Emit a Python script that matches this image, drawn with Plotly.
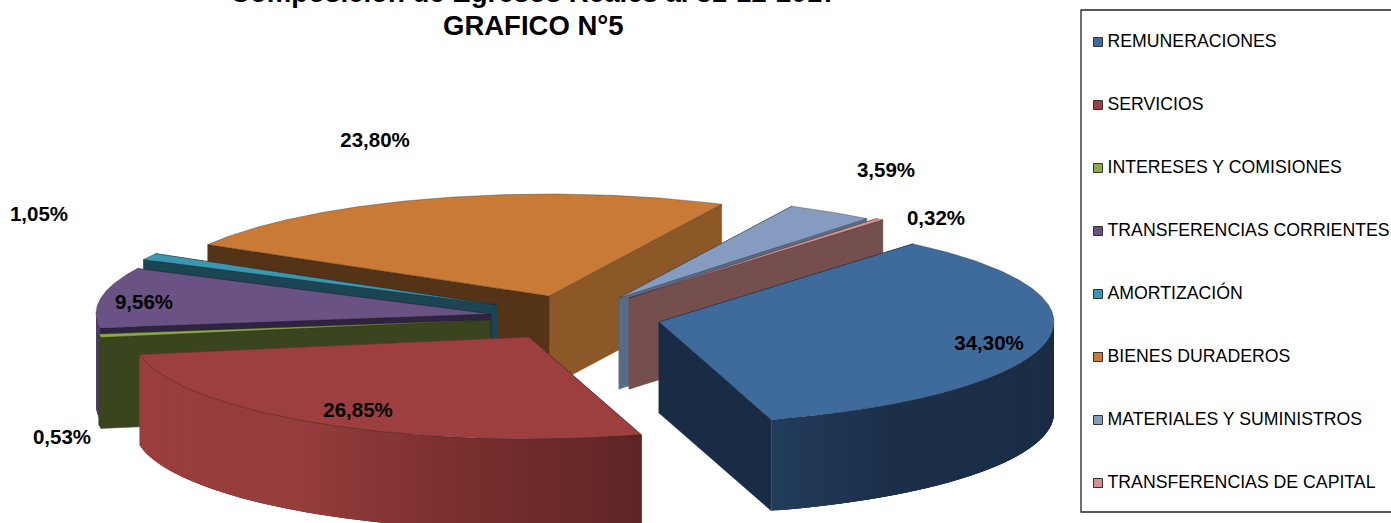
import numpy as np
import plotly.graph_objects as go

# ---- data -------------------------------------------------------------
categories = ["REMUNERACIONES", "SERVICIOS", "INTERESES Y COMISIONES",
              "TRANSFERENCIAS CORRIENTES", "AMORTIZACIÓN", "BIENES DURADEROS",
              "MATERIALES Y SUMINISTROS", "TRANSFERENCIAS DE CAPITAL"]
values = [34.30, 26.85, 0.53, 9.56, 1.05, 23.80, 3.59, 0.32]
value_labels = ["34,30%", "26,85%", "0,53%", "9,56%", "1,05%", "23,80%", "3,59%", "0,32%"]

# ---- styling / geometry of the tilted, exploded pie ---------------------
W, H = 1391, 523
RX, RY, DEPTH = 395, 102, 91
START = 50.0
apex = [(659, 322), (529, 337), (490, 320), (491, 314),
        (497, 305), (549, 296), (619, 298), (629, 298)]
top_col = ["#3F6A9C", "#9C3F3E", "#8AAB45", "#6A5285", "#3B97B0", "#C97A36", "#869BC0", "#D69290"]
side_start = ["#1A2C45", "#6B2A2A", "#3A451F", "#2E2340", "#1B4552", "#553316", "#3E4D60", "#744F4E"]
side_end = ["#1A2C45", "#9A3F3E", "#3A451F", "#2E2340", "#1B4552", "#8D5827", "#5A6C85", "#744F4E"]
arc_stops = {0: [(-73.5, "#223C5C"), (-55, "#1C3049"), (0, "#1A2C45")],
             1: [(-171, "#9C3F3E"), (-125, "#953D3C"), (-100, "#7A302F"), (-85, "#6B2A2A"), (-73, "#5E2525")],
             2: [(-172, "#3A451F"), (-170, "#3A451F")],
             3: [(-207, "#4E3D69"), (-172, "#4E3D69")]}
draw_order = [5, 4, 3, 2, 6, 7, 0, 1]
label_xy = [(989, 345), (358, 412), (62, 439), (144, 304), (39, 216), (375, 142), (886, 172), (936, 220)]
label_size = 20.5


def hex2rgb(c):
    return np.array([int(c[i:i + 2], 16) for i in (1, 3, 5)], float)


def stop_color(stops, t):
    ts = [s[0] for s in stops]
    cs = np.array([hex2rgb(s[1]) for s in stops])
    rgb = [np.interp(t, ts, cs[:, k]) for k in range(3)]
    return "rgb(%d,%d,%d)" % tuple(rgb)


def poly(xs, ys, fill, line=None, lw=0.6):
    return go.Scatter(x=list(xs) + [xs[0]], y=list(ys) + [ys[0]], mode="lines", fill="toself",
                      fillcolor=fill, line=dict(color=line or fill, width=lw),
                      hoverinfo="skip", showlegend=False)


def rim(c, t):
    r = np.radians(t)
    return c[0] + RX * np.cos(r), c[1] - RY * np.sin(r)


fractions = np.array(values) / sum(values)
ends = START - np.cumsum(fractions) * 360
starts = np.concatenate([[START], ends[:-1]])

traces = []
for i in draw_order:
    c, t0, t1 = apex[i], starts[i], ends[i]   # sweeping clockwise, t1 < t0
    # radial walls, farther one first
    walls = []
    for t, col in ((t0, side_start[i]), (t1, side_end[i])):
        x, y = rim(c, t)
        walls.append((y, [c[0], x, x, c[0]], [c[1], y, y + DEPTH, c[1] + DEPTH], col))
    for _, xs, ys, col in sorted(walls, key=lambda w: w[0]):
        traces.append(poly(xs, ys, col, lw=0.5))
    # outer wall, in overlapping strips wherever the rim faces the viewer
    if i in arc_stops:
        for a in np.arange(t1, t0, 1.0):
            if np.sin(np.radians(a + 0.5)) >= 0:
                continue
            b = min(a + 3.0, t0, 0.0 if a < 0 and a > -90 else t0)
            ss = np.linspace(a, b, 5)
            xa, ya = rim(c, ss)
            traces.append(poly(list(xa) + list(xa[::-1]), list(ya) + list((ya + DEPTH)[::-1]),
                               stop_color(arc_stops[i], a + 0.5), lw=0))
    # top face
    ts = np.linspace(t0, t1, max(int((t0 - t1) * 2), 3))
    rx, ry = rim(c, ts)
    traces.append(poly([c[0]] + list(rx), [c[1]] + list(ry), top_col[i],
                       line="rgba(30,30,30,0.55)", lw=0.6))

# value labels
traces.append(go.Scatter(x=[p[0] for p in label_xy], y=[p[1] for p in label_xy], mode="text",
                         text=value_labels, textposition="middle center",
                         textfont=dict(family="Liberation Sans", size=label_size, color="black", weight="bold"),
                         hoverinfo="skip", showlegend=False))
# legend keys and names
legend_y = [42 + 63 * k for k in range(len(categories))]
traces.append(go.Scatter(x=[1098] * len(categories), y=legend_y, mode="markers",
                         marker=dict(symbol="square", size=9, color=top_col,
                                     line=dict(color="#333333", width=1)),
                         hoverinfo="skip", showlegend=False))
traces.append(go.Scatter(x=[1107.5] * len(categories), y=[v + 1 for v in legend_y], mode="text",
                         text=categories, textposition="middle right",
                         textfont=dict(family="Liberation Sans", size=17.7, color="black"),
                         hoverinfo="skip", showlegend=False))

fig = go.Figure(traces)
fig.update_layout(
    width=W, height=H, margin=dict(l=0, r=0, t=0, b=0), showlegend=False,
    paper_bgcolor="white", plot_bgcolor="white",
    xaxis=dict(range=[0, W], visible=False, fixedrange=True),
    yaxis=dict(range=[H, 0], visible=False, fixedrange=True),
    shapes=[dict(type="rect", xref="x", yref="y", x0=1081, x1=1395, y0=10, y1=512,
                 line=dict(color="#222222", width=1.3), fillcolor="rgba(0,0,0,0)", layer="below")],
    annotations=[
        dict(text="Composición de Egresos Reales al 31-12-2017", x=533, y=1.0, xref="x", yref="paper",
             yshift=8, showarrow=False, yanchor="middle",
             font=dict(family="Liberation Sans", size=27.6, color="black", weight="bold")),
        dict(text="GRAFICO N°5", x=533, y=25, xref="x", yref="y", showarrow=False, yanchor="middle",
             font=dict(family="Liberation Sans", size=27.5, color="black", weight="bold")),
    ],
)
fig.write_html("out.html", config={"displayModeBar": False},
               post_script="document.body.style.margin='0';")
